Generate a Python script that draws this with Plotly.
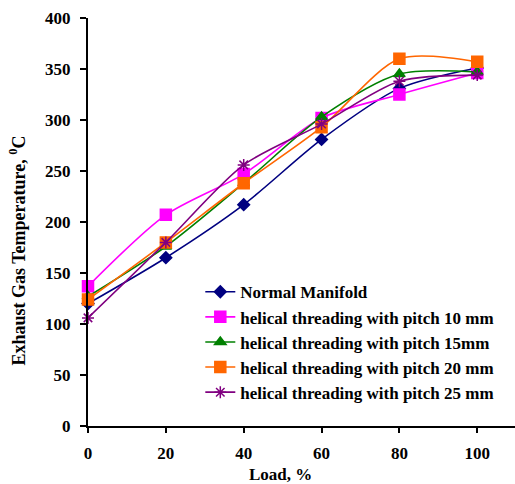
import plotly.graph_objects as go

load = [0, 20, 40, 60, 80, 100]
normal = [120, 165, 217, 281, 331, 351]
pitch10 = [137, 207, 247, 302, 325, 346]
pitch15 = [127, 176, 238, 303, 345, 347]
pitch20 = [124, 180, 238, 293, 360, 357]
pitch25 = [106, 180, 256, 296, 338, 344]

names = ["Normal Manifold",
         "helical threading with pitch 10 mm",
         "helical threading with pitch 15mm",
         "helical threading with pitch 20 mm",
         "helical threading with pitch 25 mm"]
series = [normal, pitch10, pitch15, pitch20, pitch25]
colors = ["#000080", "#FF00FF", "#008000", "#FF6600", "#800080"]
symbols = ["diamond", "square", "triangle-up", "square", "asterisk-open"]
sizes = [9, 11, 10, 11, 10]

fig = go.Figure()
for i, (nm, ys, c, s, sz) in enumerate(zip(names, series, colors, symbols, sizes)):
    fig.add_trace(go.Scatter(
        x=load, y=ys, name=nm, mode="lines+markers",
        line=dict(color=c, width=1.6, shape="spline", smoothing=0.8),
        marker=dict(symbol=s, size=sz, color=c, line=dict(color=c, width=1.5)),
        legendgroup=str(i), cliponaxis=False))

font = "Liberation Serif, Times New Roman, serif"
fs = 17
fig.update_layout(
    width=515, height=484,
    margin=dict(l=88, r=0, t=18, b=58),
    paper_bgcolor="white", plot_bgcolor="white",
    font=dict(family=font, size=fs, color="black"),
    showlegend=True,
    legend=dict(x=0.263, y=0.372, xanchor="left", yanchor="top",
                bgcolor="rgba(0,0,0,0)", tracegroupgap=0,
                font=dict(family=font, size=fs, color="black", weight="bold")),
    xaxis=dict(range=[0, 109.7], tickvals=[0, 20, 40, 60, 80, 100],
               showgrid=False, zeroline=False, showline=True, linecolor="black",
               linewidth=2, ticks="outside", ticklen=5, tickwidth=1.5, tickcolor="black",
               ticklabelstandoff=6,
               tickfont=dict(family=font, size=fs, weight="bold")),
    yaxis=dict(range=[0, 400], tickvals=list(range(0, 401, 50)),
               showgrid=False, zeroline=False, showline=True, linecolor="black",
               linewidth=2, ticks="outside", ticklen=6, tickwidth=1.5, tickcolor="black",
               ticklabelstandoff=6,
               tickfont=dict(family=font, size=fs, weight="bold")),
    annotations=[
        dict(text="Exhaust Gas Temperature, <sup>0</sup>C", textangle=-90,
             xref="paper", yref="paper", x=-0.164, y=0.43,
             xanchor="center", yanchor="middle", showarrow=False,
             font=dict(family=font, size=18, weight="bold", color="black")),
        dict(text="Load, %", xref="paper", yref="paper", x=0.45, y=-0.12,
             xanchor="center", yanchor="middle", showarrow=False,
             font=dict(family=font, size=fs, weight="bold", color="black")),
    ],
)
fig.write_html("out.html")
